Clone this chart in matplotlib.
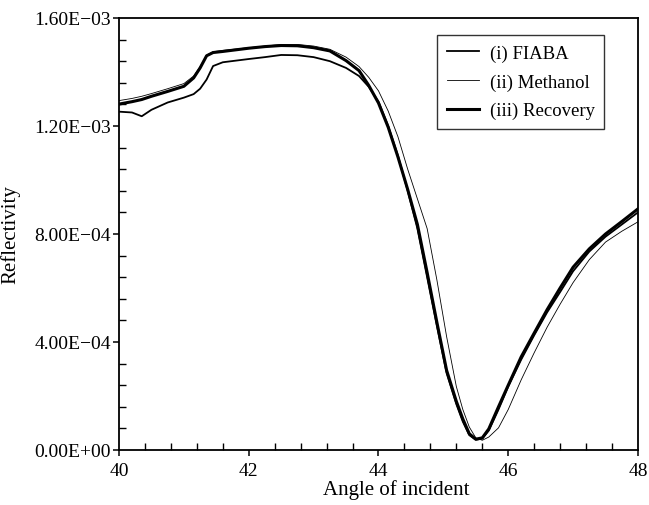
import matplotlib
matplotlib.use("Agg")
import matplotlib.pyplot as plt
from matplotlib.ticker import FuncFormatter, MultipleLocator

# angle of incidence (deg), shared by all three scans
angle = [40.0, 40.2, 40.35, 40.5, 40.75, 41.0, 41.15, 41.25, 41.35, 41.45,
         41.6, 41.8, 42.0, 42.25, 42.5, 42.75, 43.0, 43.25, 43.5, 43.7,
         43.85, 44.0, 44.15, 44.3, 44.45, 44.6, 44.75, 44.9, 45.05, 45.2,
         45.3, 45.4, 45.5, 45.6, 45.7, 45.85, 46.0, 46.2, 46.4, 46.6,
         46.8, 47.0, 47.25, 47.5, 47.75, 48.0]

# reflectivity, in units of 1e-4
fiaba = [12.53, 12.50, 12.36, 12.60, 12.87, 13.05, 13.18, 13.38, 13.72, 14.22,
         14.36, 14.42, 14.48, 14.55, 14.63, 14.62, 14.55, 14.40, 14.15, 13.85,
         13.45, 12.90, 12.00, 10.90, 9.60, 8.20, 6.40, 4.60, 2.85, 1.70,
         1.05, 0.55, 0.38, 0.42, 0.72, 1.50, 2.35, 3.35, 4.25, 5.10,
         5.85, 6.62, 7.35, 7.90, 8.35, 8.80]
methanol = [12.94, 13.02, 13.10, 13.20, 13.38, 13.57, 13.85, 14.20, 14.62, 14.75,
            14.80, 14.85, 14.90, 14.96, 15.02, 15.02, 14.96, 14.84, 14.55, 14.20,
            13.80, 13.30, 12.55, 11.60, 10.40, 9.30, 8.20, 6.30, 4.20, 2.35,
            1.50, 0.85, 0.45, 0.36, 0.48, 0.82, 1.50, 2.60, 3.60, 4.55,
            5.40, 6.20, 7.05, 7.70, 8.10, 8.45]
recovery = [12.81, 12.90, 12.98, 13.10, 13.28, 13.47, 13.78, 14.15, 14.60, 14.72,
            14.76, 14.82, 14.88, 14.94, 14.98, 14.97, 14.90, 14.78, 14.42, 14.05,
            13.50, 12.85, 11.95, 10.85, 9.65, 8.35, 6.57, 4.73, 2.95, 1.80,
            1.15, 0.60, 0.40, 0.45, 0.78, 1.60, 2.40, 3.45, 4.33, 5.20,
            6.00, 6.77, 7.45, 8.00, 8.46, 8.93]

labels = ["(i) FIABA", "(ii) Methanol", "(iii) Recovery"]

plt.rcParams["font.family"] = ["Liberation Serif", "DejaVu Serif"]
fig = plt.figure(figsize=(6.49, 5.06), dpi=100)
ax = fig.add_axes([0.1834, 0.1087, 0.7996, 0.8538])

ax.plot(angle, [v * 1e-4 for v in fiaba], color="black", lw=1.3, label=labels[0])
ax.plot(angle, [v * 1e-4 for v in methanol], color="black", lw=0.6, label=labels[1])
ax.plot(angle, [v * 1e-4 for v in recovery], color="black", lw=2.2, label=labels[2])

ax.set_xlim(40, 48)
ax.set_ylim(0, 1.6e-3)
ax.xaxis.set_major_locator(MultipleLocator(2))
ax.xaxis.set_minor_locator(MultipleLocator(0.4))
ax.yaxis.set_major_locator(MultipleLocator(4e-4))
ax.yaxis.set_minor_locator(MultipleLocator(8e-5))
ax.yaxis.set_major_formatter(FuncFormatter(lambda v, p: f"{v:.2E}".replace("-", "\u2212")))

ax.tick_params(which="major", direction="out", length=4, width=1.1, labelsize=14,
               top=False, right=False)
ax.tick_params(axis="y", which="major", pad=2)
ax.tick_params(axis="x", which="major", pad=5)
ax.tick_params(which="minor", direction="in", length=5, width=1.0, top=False, right=False)
for s in ax.spines.values():
    s.set_linewidth(1.3)

ax.set_xlabel("Angle of incident", fontsize=15)
ax.xaxis.set_label_coords(0.534, -0.067)
ax.set_ylabel("Reflectivity", fontsize=15)
ax.yaxis.set_label_coords(-0.19, 0.5)

leg = ax.legend(loc="upper right", bbox_to_anchor=(0.931, 0.929),
                bbox_transform=fig.transFigure, borderaxespad=0, fontsize=13.5,
                frameon=True, fancybox=False, edgecolor="black", handlelength=1.7,
                handletextpad=0.6, labelspacing=0.62, borderpad=0.5)
leg.get_frame().set_linewidth(1.0)

fig.savefig("out.png", dpi=100)
